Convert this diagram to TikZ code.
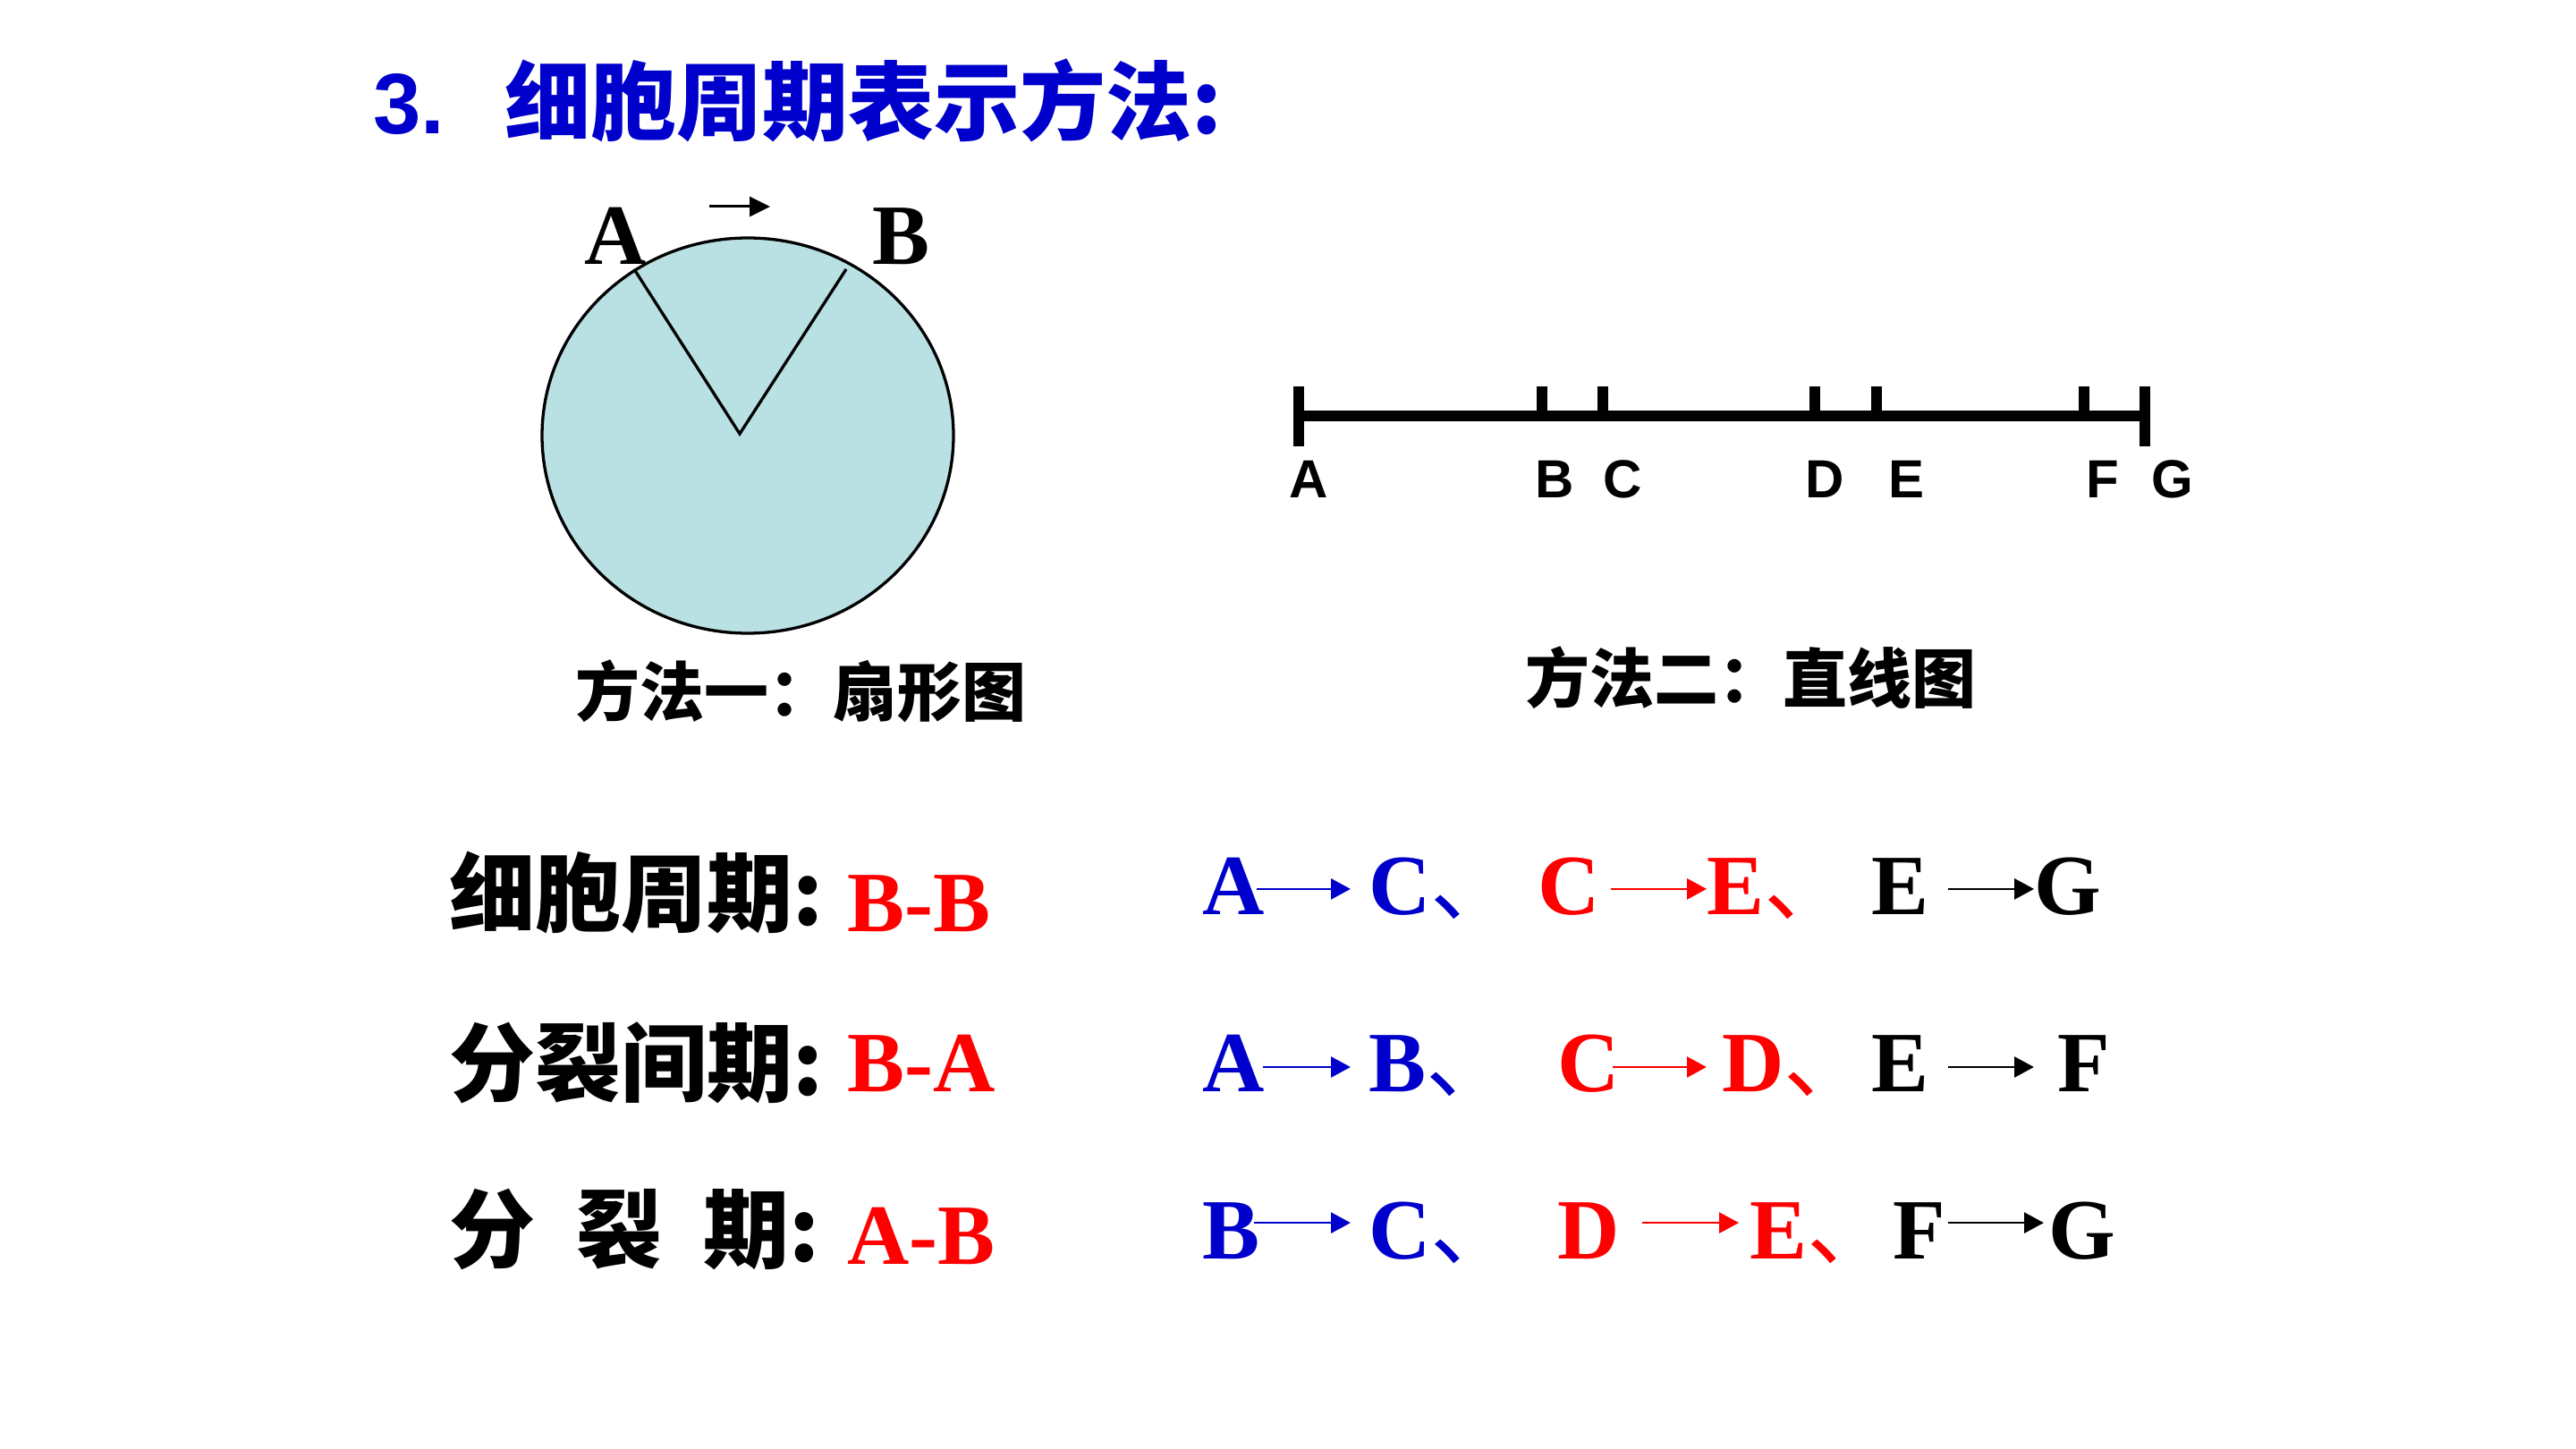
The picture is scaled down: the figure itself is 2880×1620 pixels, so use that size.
\documentclass[tikz,border=0pt]{standalone}
\usepackage{fontspec}
\setmainfont{Liberation Serif}
\newfontfamily\cjk{Noto Sans CJK SC}
\newfontfamily\arialf{Liberation Sans}
\usetikzlibrary{arrows.meta}
\definecolor{myblue}{RGB}{0,0,204}
\definecolor{myred}{RGB}{255,0,0}
\definecolor{pie}{RGB}{185,224,227}
\newcommand{\dunhao}{{\cjk\mdseries 、}}
\tikzset{
  letter/.style={inner sep=0pt, anchor=base west, text height=22pt, text depth=0pt,
    font=\bfseries\fontsize{32}{38}\selectfont},
  cjkbig/.style={inner sep=0pt, anchor=base west, font=\cjk\bfseries\fontsize{32}{38}\selectfont},
  cjkmid/.style={inner sep=0pt, anchor=base west, font=\cjk\bfseries\fontsize{24}{29}\selectfont},
  tick/.style={inner sep=0pt, anchor=base, font=\arialf\bfseries\fontsize{20}{24}\selectfont},
  arr/.style={line width=0.8pt, -{Triangle[length=7.3pt,width=7.7pt]}},
  bar/.style={line width=4pt},
}
\begin{document}
\begin{tikzpicture}[x=0.33333pt,y=-0.33333pt]
\path[use as bounding box, fill=white] (0,0) rectangle (2880,1620);

% title
\node[inner sep=0pt, anchor=base west, text=myblue, font=\arialf\bfseries\fontsize{32}{38}\selectfont] (t1) at (417,150) {3.};
\node[cjkbig, text=myblue] (t2) at (564,150) {细胞周期表示方法:};

% pie
\draw[fill=pie, line width=1.1pt] (836,487) ellipse [x radius=230, y radius=221];
\coordinate (pA) at (709,301);
\coordinate (pO) at (827,485);
\coordinate (pB) at (946,301);
\draw[line width=1.1pt] (pA) -- (pO) -- (pB);
\node[letter] (la) at (653,296) {A};
\node[letter] (lb) at (975,296) {B};
\coordinate (ar1) at (793,231);
\coordinate (ar2) at (861,231);
\draw[line width=1pt, -{Triangle[length=7.6pt,width=7.3pt]}] (ar1) -- (ar2);
\node[cjkmid] (cap1) at (643,801) {方法一：扇形图};

% line diagram
\draw[bar] (1452,465) -- (2398,465);
\draw[bar] (1452,432) -- (1452,499);
\draw[bar] (2398,432) -- (2398,499);
\foreach \x in {1724,1792,2029,2098,2330}{
  \draw[bar] (\x,432) -- (\x,465);
}
\node[tick] (ta) at (1463,557) {A};
\node[tick] (tb) at (1738,557) {B};
\node[tick] (tc) at (1814,557) {C};
\node[tick] (td) at (2040,557) {D};
\node[tick] (te) at (2131,557) {E};
\node[tick] (tf) at (2351,557) {F};
\node[tick] (tg) at (2429,557) {G};
\node[cjkmid] (cap2) at (1705,786) {方法二：直线图};

% row labels
\node[cjkbig] (r1) at (502,1035) {细胞周期:};
\node[cjkbig] (r2) at (502,1224) {分裂间期:};
\node[cjkbig] (r3) at (502,1410) {分\hspace{0.48em}裂\hspace{0.48em}期:};
\node[letter, text=myred] (v1) at (947,1041) {B-B};
\node[letter, text=myred] (v2) at (947,1220) {B-A};
\node[letter, text=myred] (v3) at (947,1413) {A-B};

% row 1
\node[letter, text=myblue] (n1a) at (1344,1023) {A};
\node[letter, text=myblue] (n1c) at (1530,1023) {C\dunhao};
\node[letter, text=myred] (n1c2) at (1719,1023) {C};
\node[letter, text=myred] (n1e) at (1908,1023) {E\dunhao};
\node[letter] (n1e2) at (2092,1023) {E};
\node[letter] (n1g) at (2274,1023) {G};
\draw[arr, myblue] ([xshift=-3.3pt,yshift=-1.3pt]n1a.east) -- ([xshift=-6.7pt,yshift=-1.3pt]n1c.west);
\draw[arr, myred] ([xshift=3.7pt,yshift=-1.3pt]n1c2.east) -- ([yshift=-1.3pt]n1e.west);
\draw[arr] ([xshift=7pt,yshift=-1.3pt]n1e2.east) -- ([yshift=-1.3pt]n1g.west);

% row 2
\node[letter, text=myblue] (n2a) at (1344,1220) {A};
\node[letter, text=myblue] (n2b) at (1530,1220) {B\dunhao};
\node[letter, text=myred] (n2c) at (1741,1220) {C};
\node[letter, text=myred] (n2d) at (1925,1220) {D\dunhao};
\node[letter] (n2e) at (2092,1220) {E};
\node[letter] (n2f) at (2300,1220) {F};
\draw[arr, myblue] ([xshift=-0.7pt,yshift=-2pt]n2a.east) -- ([xshift=-6.7pt,yshift=-2pt]n2b.west);
\draw[arr, myred] ([xshift=-3pt,yshift=-2pt]n2c.east) -- ([xshift=-5.7pt,yshift=-2pt]n2d.west);
\draw[arr] ([xshift=7pt,yshift=-2pt]n2e.east) -- ([xshift=-8.7pt,yshift=-2pt]n2f.west);

% row 3
\node[letter, text=myblue] (n3b) at (1344,1407) {B};
\node[letter, text=myblue] (n3c) at (1530,1407) {C\dunhao};
\node[letter, text=myred] (n3d) at (1741,1407) {D};
\node[letter, text=myred] (n3e) at (1956,1407) {E\dunhao};
\node[letter] (n3f) at (2116,1407) {F};
\node[letter] (n3g) at (2290,1407) {G};
\draw[arr, myblue] ([xshift=-2.3pt,yshift=2.3pt]n3b.east) -- ([xshift=-6.7pt,yshift=2.3pt]n3c.west);
\draw[arr, myred] ([xshift=8.3pt,yshift=2.3pt]n3d.east) -- ([xshift=-4pt,yshift=2.3pt]n3e.west);
\draw[arr] ([xshift=0.7pt,yshift=2.3pt]n3f.east) -- ([xshift=-1.7pt,yshift=2.3pt]n3g.west);
\end{tikzpicture}
\end{document}
